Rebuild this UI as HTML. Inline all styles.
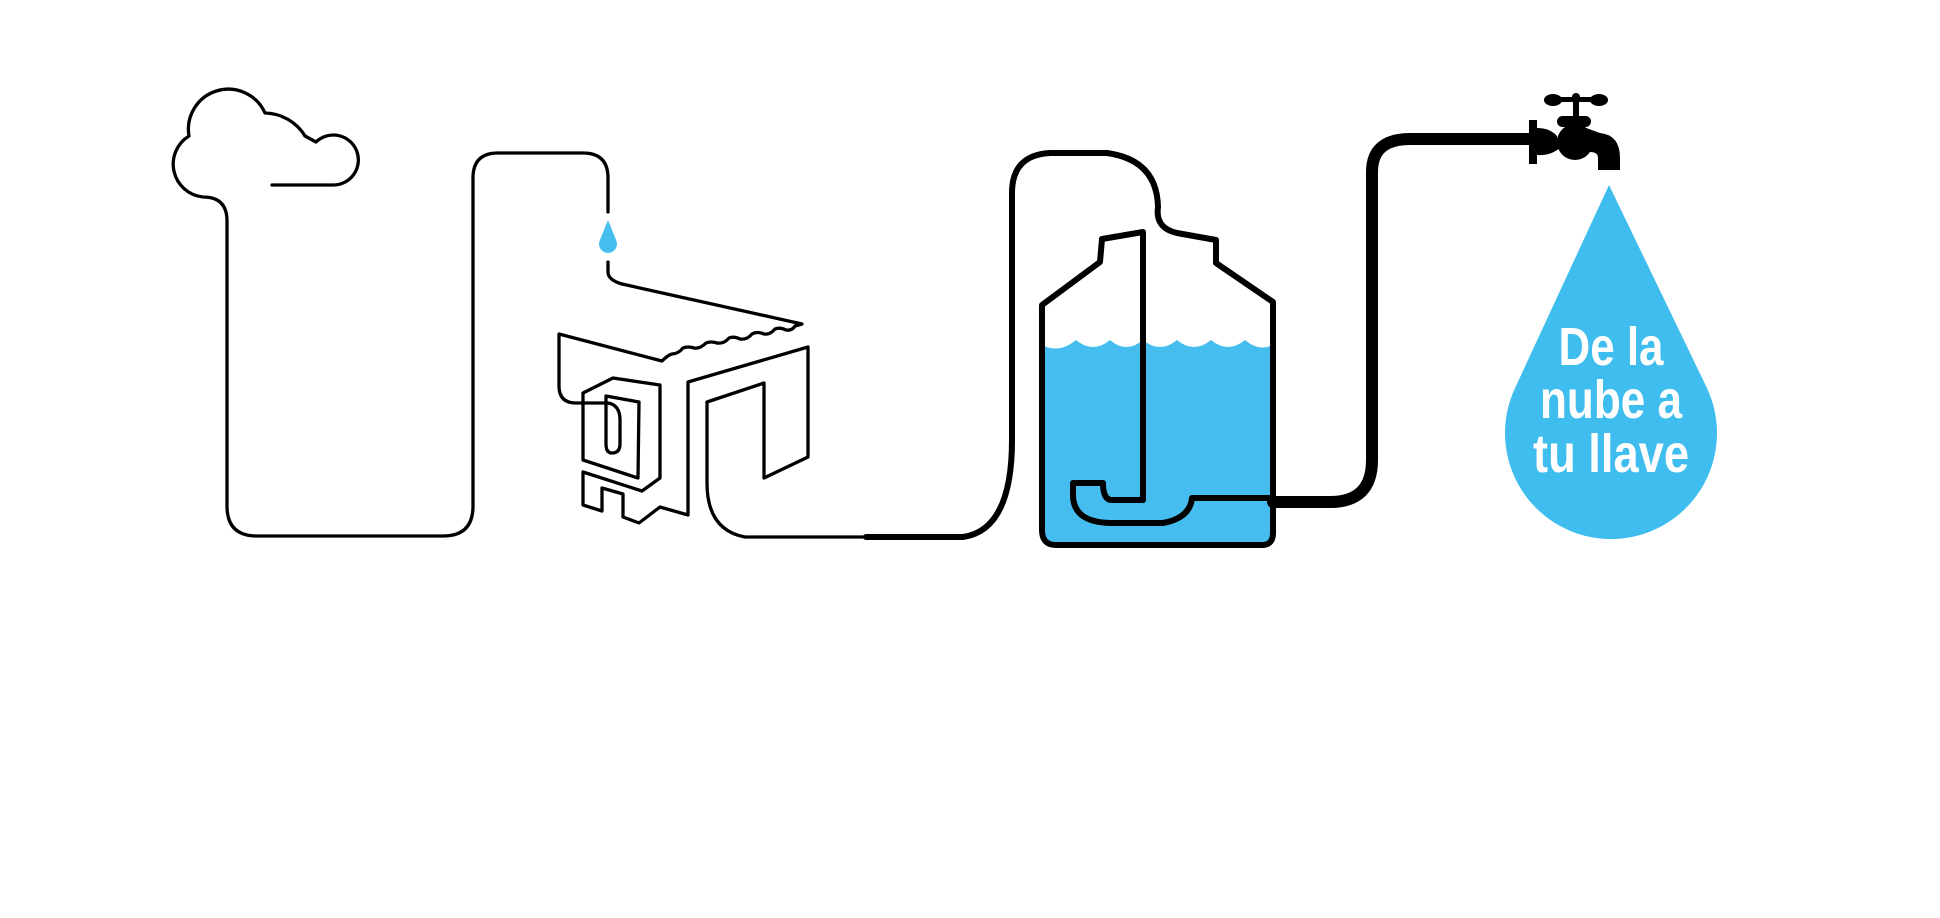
<!DOCTYPE html>
<html><head><meta charset="utf-8"><style>
html,body{margin:0;padding:0;background:#fff;}
svg{display:block;}
</style></head><body>
<svg width="1940" height="918" viewBox="0 0 1940 918" xmlns="http://www.w3.org/2000/svg">
<rect width="1940" height="918" fill="#fff"/>
<g fill="none" stroke="#000" stroke-width="3.3" stroke-linecap="round" stroke-linejoin="round">
  <!-- cloud + first pipe -->
  <path d="M272,185 H333 A25,25 0 1 0 316,142 L305,136 A48,48 0 0 0 265,113 A40,40 0 0 0 189,136 A33,33 0 0 0 203,197 Q227,197 227,221 V506 Q227,536 257,536 H443 Q473,536 473,506 V178 Q473,153 498,153 H583 Q608,153 608,178 V212"/>
  <!-- pipe to building -->
  <path d="M608,262 V272 Q608,280 622,284 L802,324 L795,326 Q792,331 786,330 Q780,327 775,329 Q770,335 764,334 Q757,331 752,334 Q747,340 740,339 Q734,336 729,338 Q724,344 717,343 Q711,341 706,343 Q700,349 694,348 Q688,346 683,348 Q678,354 672,354 Q668,355 662,361 L559,334 V386 Q559,403 576,403 H608 Q620,405 620,420 V444 Q620,453 612,453 Q606,453 606,444 V396 L639,402 L638,478 L583,460 V393 L613,378 L660,385 V478 L642,491 L583,472 V505 L602,511 V488 L623,494 V517 L639,523 L660,507 L688,515 V382 L808,347 V457 L764,478 V383 L707,402 V483 Q707,530 745,537 H866"/>
</g>
<!-- small drop -->
<path d="M608,220 L616.5,241 A9,9 0 1 1 599.5,241 Z" fill="#47bef0"/>
<!-- water -->
<path d="M1042,345 Q1059,354 1076,340 Q1093,354 1110,340 Q1126,354 1143,340 Q1160,354 1177,340 Q1194,354 1211,340 Q1228,354 1245,340 Q1259,352 1273,345 V538 Q1273,545 1265,545 H1055 Q1042,545 1042,530 Z" fill="#45bdee"/>
<g fill="none" stroke="#000" stroke-width="6" stroke-linecap="round" stroke-linejoin="round">
  <!-- tank -->
  <path d="M1143,500 V232 L1102,239 L1100,262 L1042,305 V530 Q1042,545 1056,545 H1262 Q1273,545 1273,533 V302 L1216,263 V240 L1177,233 Q1155,228 1158,207 Q1157,160 1107,153 H1050 Q1012,155 1012,193 V440 Q1012,530 963,537 H866"/>
  <path d="M1143,500 H1112 Q1103,500 1103,483 H1073 V495 Q1073,522 1110,523 H1163 Q1190,518 1192,498 H1273"/>
</g>
<path d="M1273,502 H1330 Q1372,502 1372,460 V172 Q1372,139 1410,139 H1532" fill="none" stroke="#000" stroke-width="12" stroke-linecap="round"/>
<!-- faucet -->
<g fill="#000">
  <rect x="1529" y="120" width="8" height="44"/>
  <path d="M1537,128 Q1550,128 1557,136 L1560,148 Q1550,156 1537,155 Z"/>
  <circle cx="1575" cy="142" r="18"/>
  <path d="M1575,124 L1600,133 Q1620,135 1620,158 V170 H1598 V158 Q1598,152 1590,152 L1575,150 Z"/>
  <rect x="1557" y="116" width="34" height="11" rx="5.5"/>
  <rect x="1573" y="98" width="6" height="20"/>
  <ellipse cx="1553" cy="100" rx="9" ry="6"/>
  <ellipse cx="1599" cy="100" rx="9" ry="6"/>
  <rect x="1553" y="97" width="46" height="5"/>
  <circle cx="1576" cy="97" r="4"/>
</g>
<!-- big drop -->
<path d="M1609,185 L1706.8,387.7 A106,106 0 1 1 1515.2,387.7 Z" fill="#3fbdee"/>
<g fill="#fff" font-family="'Liberation Sans Narrow','Liberation Sans',sans-serif" font-weight="bold" font-size="54" text-anchor="middle">
  <text x="1611" y="365" textLength="105" lengthAdjust="spacingAndGlyphs">De la</text>
  <text x="1611" y="418" textLength="142" lengthAdjust="spacingAndGlyphs">nube a</text>
  <text x="1611" y="472" textLength="156" lengthAdjust="spacingAndGlyphs">tu llave</text>
</g>
</svg>
</body></html>
